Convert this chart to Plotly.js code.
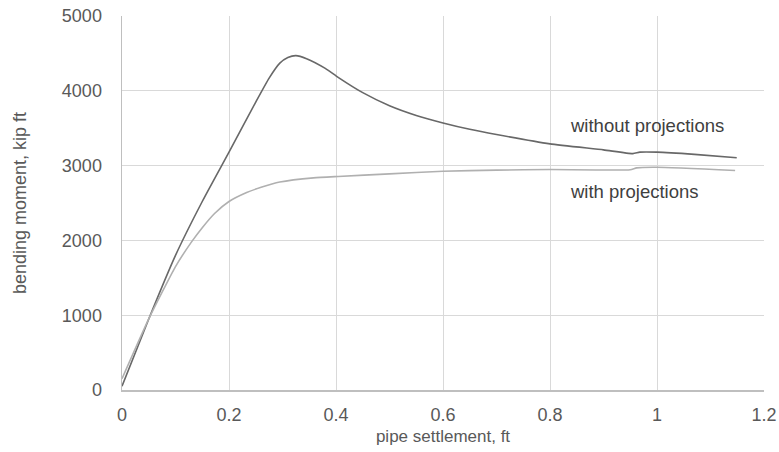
<!DOCTYPE html>
<html>
<head>
<meta charset="utf-8">
<script src="https://cdn.plot.ly/plotly-3.0.1.min.js"></script>
<style>html,body{margin:0;padding:0;background:#fff;}#chart{width:779px;height:452px;}</style>
</head>
<body>
<div id="chart"></div>
<script>
const withoutX = [0, 0.05, 0.1, 0.15, 0.2, 0.25, 0.275, 0.295, 0.31, 0.325, 0.345, 0.38, 0.404, 0.45, 0.5, 0.55, 0.6, 0.65, 0.7, 0.8, 0.9, 0.955, 0.968, 1.0, 1.07, 1.149];
const withoutY = [50, 950, 1800, 2520, 3180, 3850, 4170, 4370, 4445, 4470, 4430, 4300, 4180, 3975, 3800, 3670, 3570, 3485, 3415, 3290, 3210, 3160, 3180, 3180, 3150, 3105];
const withX = [0, 0.05, 0.1, 0.13, 0.15, 0.173, 0.2, 0.233, 0.26, 0.295, 0.358, 0.404, 0.5, 0.6, 0.7, 0.8, 0.95, 0.962, 1.0, 1.146];
const withY = [150, 950, 1650, 1980, 2170, 2360, 2520, 2640, 2710, 2780, 2836, 2855, 2890, 2924, 2940, 2947, 2945, 2970, 2978, 2935];
const xTicks = [0, 0.2, 0.4, 0.6, 0.8, 1, 1.2];
const xTickText = ['0', '0.2', '0.4', '0.6', '0.8', '1', '1.2'];
const yTicks = [0, 1000, 2000, 3000, 4000, 5000];
const labelNames = ['without projections', 'with projections'];
const labelX = [0.834, 0.834];
const labelY = [3540, 2650];

const font = 'Liberation Sans, Arial, sans-serif';
const traces = [
  {x: withoutX, y: withoutY, type: 'scatter', mode: 'lines', name: labelNames[0],
   line: {color: '#686868', width: 1.6, shape: 'spline', smoothing: 0.5}},
  {x: withX, y: withY, type: 'scatter', mode: 'lines', name: labelNames[1],
   line: {color: '#b0b0b0', width: 1.6, shape: 'spline', smoothing: 0.5}}
];
const layout = {
  width: 779, height: 452,
  margin: {l: 122, r: 15, t: 16, b: 62},
  paper_bgcolor: '#fff', plot_bgcolor: '#fff',
  showlegend: false,
  font: {family: font, color: '#595959', size: 18},
  xaxis: {
    range: [0, 1.2], tickvals: xTicks, ticktext: xTickText,
    showgrid: true, gridcolor: '#d9d9d9', gridwidth: 1,
    showline: true, linecolor: '#bfbfbf', linewidth: 1.5,
    zeroline: false, ticks: '', ticklabelstandoff: 8,
    tickfont: {family: font, size: 18, color: '#595959'},
    title: {text: 'pipe settlement, ft', font: {family: font, size: 17, color: '#595959'}, standoff: 6}
  },
  yaxis: {
    range: [0, 5000], tickvals: yTicks,
    showgrid: true, gridcolor: '#d9d9d9', gridwidth: 1,
    showline: true, linecolor: '#bfbfbf', linewidth: 1.5,
    zeroline: false, ticks: '', ticklabelstandoff: 15,
    tickfont: {family: font, size: 18, color: '#595959'},
    title: {text: 'bending moment, kip ft', font: {family: font, size: 18, color: '#595959'}, standoff: 30}
  },
  annotations: labelNames.map((t, i) => ({
    x: labelX[i], y: labelY[i], xref: 'x', yref: 'y', text: t, showarrow: false,
    xanchor: 'left', yanchor: 'middle', font: {family: font, size: 18.5, color: '#404040'}
  }))
};
Plotly.newPlot('chart', traces, layout, {displayModeBar: false, staticPlot: true});
</script>
</body>
</html>
